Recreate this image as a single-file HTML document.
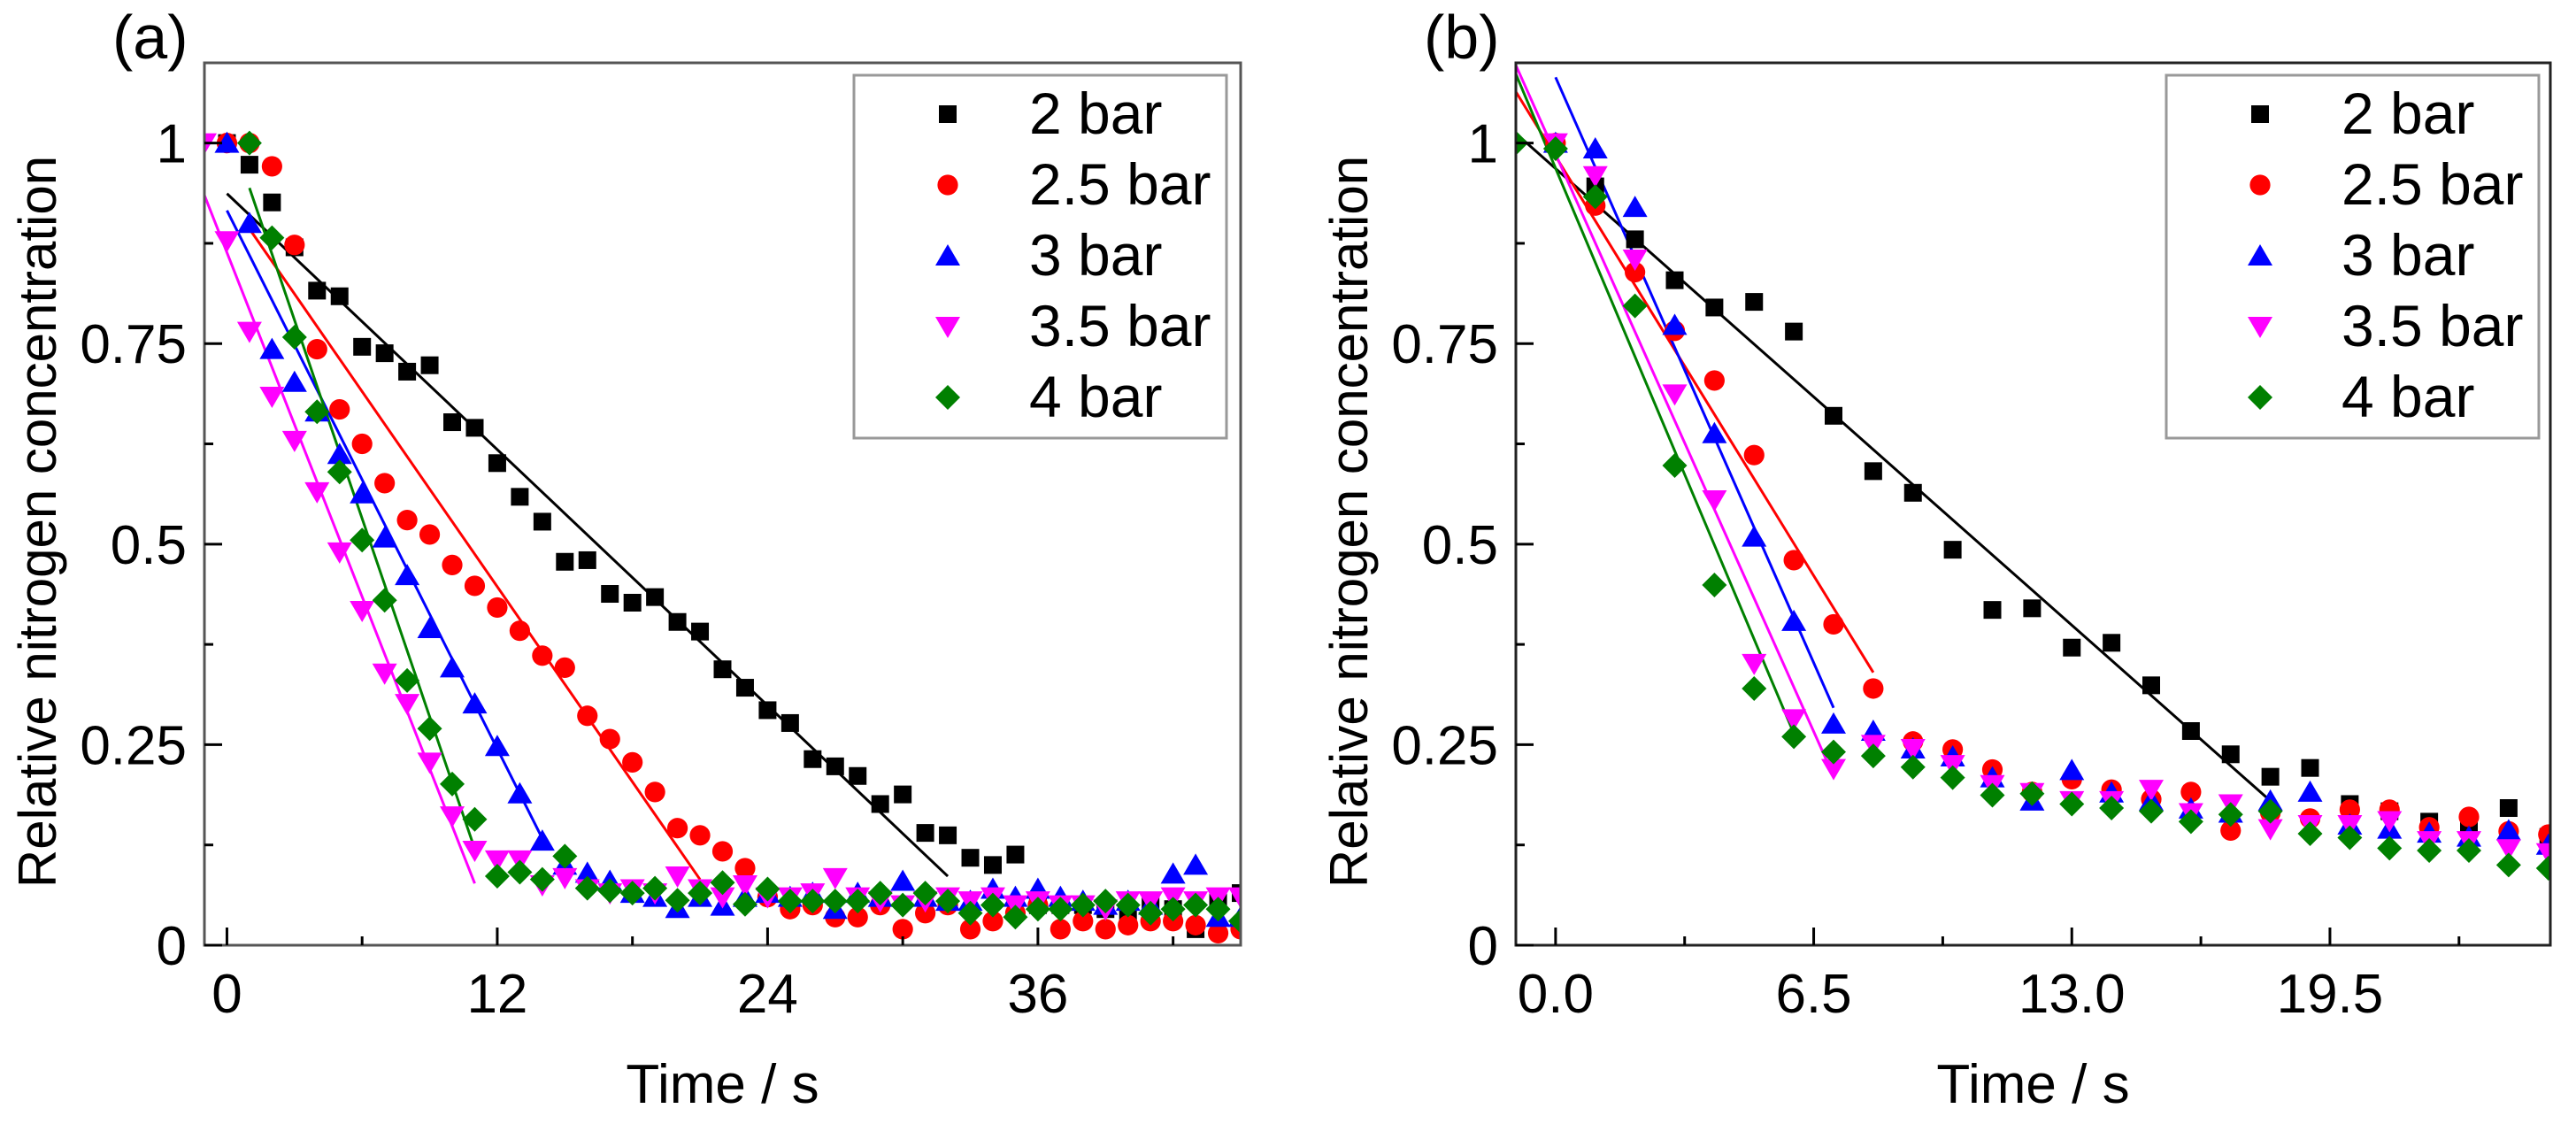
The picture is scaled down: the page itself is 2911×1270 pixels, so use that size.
<!DOCTYPE html>
<html><head><meta charset="utf-8"><style>
html,body{margin:0;padding:0;background:#fff;}
svg text{font-family:"Liberation Sans",Arial,sans-serif;fill:#000;}
</style></head><body>
<svg id="fig" width="2911" height="1265" viewBox="0 0 2911 1265" xmlns="http://www.w3.org/2000/svg"></svg>
<script>
const seriesNames = ["2 bar","2.5 bar","3 bar","3.5 bar","4 bar"];
const seriesColors = ["#000000","#ff0000","#0000ff","#ff00ff","#008000"];
const seriesShapes = ["square","circle","up","down","diamond"];

const aTickLabels = ["0","12","24","36"];
const aTickValues = [0,12,24,36];
const yTickLabels = ["0","0.25","0.5","0.75","1"];
const yTickValues = [0,0.25,0.5,0.75,1];

const aStart = [0,0,0,-1,1];
const a2 = [1.0,0.973,0.926,0.87,0.816,0.809,0.746,0.738,0.715,0.723,0.652,0.645,0.601,0.559,0.528,0.478,0.480,0.438,0.427,0.434,0.403,0.391,0.344,0.321,0.293,0.277,0.232,0.223,0.211,0.176,0.188,0.140,0.137,0.109,0.100,0.113,0.05,0.05,0.05,0.045,0.04,0.05,0.045,0.02,0.055,0.065];
const a25 = [1.0,1.0,0.971,0.873,0.743,0.668,0.625,0.576,0.530,0.512,0.474,0.448,0.421,0.392,0.361,0.346,0.286,0.257,0.228,0.191,0.146,0.137,0.117,0.096,0.06,0.045,0.05,0.035,0.035,0.05,0.02,0.04,0.05,0.02,0.03,0.04,0.05,0.02,0.03,0.02,0.025,0.03,0.03,0.025,0.015,0.02];
const a3 = [1.0,0.9,0.743,0.702,0.665,0.612,0.563,0.508,0.461,0.395,0.346,0.301,0.248,0.189,0.130,0.1,0.09,0.08,0.065,0.06,0.046,0.06,0.049,0.06,0.065,0.06,0.065,0.045,0.065,0.06,0.08,0.06,0.055,0.055,0.07,0.06,0.07,0.06,0.055,0.05,0.055,0.05,0.089,0.1,0.035,0.035];
const a35 = [1.0,0.878,0.765,0.684,0.629,0.565,0.490,0.417,0.339,0.301,0.228,0.161,0.118,0.106,0.106,0.075,0.084,0.07,0.065,0.07,0.065,0.086,0.07,0.06,0.075,0.06,0.06,0.065,0.084,0.06,0.055,0.05,0.055,0.06,0.055,0.06,0.05,0.055,0.05,0.05,0.045,0.055,0.055,0.06,0.055,0.06,0.06];
const a4 = [1.0,0.882,0.758,0.665,0.590,0.505,0.430,0.330,0.270,0.201,0.157,0.086,0.091,0.082,0.111,0.071,0.068,0.065,0.071,0.056,0.065,0.078,0.051,0.07,0.055,0.055,0.055,0.055,0.065,0.05,0.065,0.055,0.04,0.05,0.035,0.045,0.045,0.05,0.055,0.05,0.04,0.045,0.05,0.045,0.03];
const aFitStartT = [0,1,0,-1,1];
const aFitStartY = [0.937,0.893,0.916,0.935,0.944];
const aFitEndT = [32,21,14,11,11];
const aFitEndY = [0.086,0.082,0.133,0.077,0.12];

const bTickLabels = ["0.0","6.5","13.0","19.5"];
const bTickValues = [0,6.5,13,19.5];
const bStart = [0,0,0,0,-1];
const b2 = [1.0,0.946,0.88,0.829,0.795,0.802,0.765,0.660,0.591,0.564,0.493,0.418,0.420,0.371,0.377,0.324,0.267,0.238,0.210,0.221,0.176,0.167,0.154,0.15,0.171,0.135];
const b25 = [1.0,0.922,0.839,0.766,0.704,0.611,0.48,0.40,0.32,0.254,0.244,0.219,0.191,0.207,0.194,0.182,0.191,0.143,0.165,0.158,0.169,0.169,0.147,0.16,0.142,0.138];
const b3 = [1.0,0.993,0.92,0.773,0.638,0.509,0.404,0.276,0.267,0.245,0.235,0.209,0.18,0.218,0.19,0.18,0.17,0.165,0.18,0.191,0.15,0.145,0.14,0.135,0.143,0.125];
const b35 = [1.0,0.959,0.855,0.687,0.555,0.351,0.282,0.22,0.25,0.245,0.225,0.2,0.19,0.18,0.18,0.194,0.165,0.176,0.145,0.15,0.15,0.155,0.13,0.13,0.12,0.115];
const b4 = [1.0,0.993,0.933,0.797,0.598,0.449,0.32,0.26,0.241,0.236,0.222,0.209,0.187,0.189,0.176,0.171,0.167,0.154,0.163,0.167,0.139,0.134,0.121,0.118,0.118,0.1,0.096];
const bFitStartT = [-1,-1,0,-1,-1];
const bFitStartY = [1.012,1.064,1.082,1.097,1.086];
const bFitEndT = [18,8,7,7,6];
const bFitEndY = [0.18,0.34,0.296,0.211,0.264];

const NS = "http://www.w3.org/2000/svg";
const svg = document.getElementById('fig');
function mk(tag, attrs, parent){
  const e = document.createElementNS(NS, tag);
  for (const k in attrs) e.setAttribute(k, attrs[k]);
  (parent||svg).appendChild(e);
  return e;
}
function marker(g, shape, color, cx, cy, s){
  let e;
  if (shape==="square") e = mk('rect',{x:cx-s/2,y:cy-s/2,width:s,height:s,fill:color},g);
  else if (shape==="circle") e = mk('circle',{cx:cx,cy:cy,r:s*0.58,fill:color},g);
  else if (shape==="up") e = mk('polygon',{points:`${cx},${cy-s*0.65} ${cx+s*0.7},${cy+s*0.55} ${cx-s*0.7},${cy+s*0.55}`,fill:color},g);
  else if (shape==="down") e = mk('polygon',{points:`${cx},${cy+s*0.65} ${cx+s*0.7},${cy-s*0.55} ${cx-s*0.7},${cy-s*0.55}`,fill:color},g);
  else e = mk('polygon',{points:`${cx},${cy-s*0.7} ${cx+s*0.7},${cy} ${cx},${cy+s*0.7} ${cx-s*0.7},${cy}`,fill:color},g);
  return e;
}

function panel(cfg){
  const L=cfg.left,R=cfg.right,T=71,B=1068;
  const xs = t => L + (t - cfg.xmin)/(cfg.xmax-cfg.xmin)*(R-L);
  const ys = v => B - v/1.1*(B-T);
  const g = mk('g',{});
  
  
  const clipId = cfg.name+'-clip';
  const cp = mk('clipPath',{id:clipId},g);
  mk('rect',{x:L,y:T,width:R-L,height:B-T},cp);
  const lg = mk('g',{'clip-path':`url(#${clipId})`},g);
  for (let i=0;i<5;i++){
    const ln = mk('line',{x1:xs(cfg.fs[i]),y1:ys(cfg.fsy[i]),x2:xs(cfg.fe[i]),y2:ys(cfg.fey[i]),stroke:seriesColors[i],'stroke-width':3},lg);
    
    
  }
  for (let i=0;i<5;i++){
    const sg = mk('g',{'clip-path':`url(#${clipId})`},g);
    
    
    cfg.data[i].forEach((v,j)=>{
      const m = marker(sg, seriesShapes[i], seriesColors[i], xs(cfg.start[i]+j), ys(v), 20);
      
      
    });
  }
  const fr = mk('rect',{x:L,y:T,width:R-L,height:B-T,fill:'none',stroke:cfg.frame,'stroke-width':cfg.fw},g);
  
  
  cfg.xt.forEach((t,k)=>{
    mk('line',{x1:xs(t),y1:B,x2:xs(t),y2:B-20,stroke:'#000','stroke-width':3},g);
    const tx = mk('text',{x:xs(t),y:B+76,'font-size':62,'text-anchor':'middle'},g);
    tx.textContent = cfg.xl[k];
    
    
    const mt = t + cfg.minor;
    if (mt < cfg.xmax) mk('line',{x1:xs(mt),y1:B,x2:xs(mt),y2:B-10,stroke:'#000','stroke-width':3},g);
  });
  yTickValues.forEach((v,k)=>{
    mk('line',{x1:L,y1:ys(v),x2:L+20,y2:ys(v),stroke:'#000','stroke-width':3},g);
    const ty = mk('text',{x:L-20,y:ys(v)+22,'font-size':62,'text-anchor':'end'},g);
    ty.textContent = yTickLabels[k];
    
    
    if (k<4) mk('line',{x1:L,y1:ys(v+0.125),x2:L+10,y2:ys(v+0.125),stroke:'#000','stroke-width':3},g);
  });
  const xt = mk('text',{x:(L+R)/2,y:1246,'font-size':62,'text-anchor':'middle'},g);
  xt.textContent = 'Time / s';
  
  
  const yt = mk('text',{x:0,y:0,'font-size':60,'text-anchor':'middle',transform:`translate(${L-168},${(T+B)/2+20}) rotate(-90)`},g);
  yt.textContent = 'Relative nitrogen concentration';
  
  
  const pl = mk('text',{x:L-104,y:66,'font-size':70},g);
  pl.textContent = cfg.label;
  
  
  const lgd = mk('g',{},g);
  
  
  mk('rect',{x:cfg.lx,y:85,width:421,height:410,fill:'#fff',stroke:'#999','stroke-width':3},lgd);
  for (let i=0;i<5;i++){
    const cy = 127 + i*80;
    const eg = mk('g',{},lgd);
    
    
    marker(eg, seriesShapes[i], seriesColors[i], cfg.lx+106, cy+2, 20);
    const t = mk('text',{x:cfg.lx+198,y:cy+24,'font-size':66},eg);
    t.textContent = seriesNames[i];
  }
}

panel({name:'panel-a',label:'(a)',left:231,right:1402,xmin:-1,xmax:45,minor:6,
  xt:aTickValues,xl:aTickLabels,start:aStart,data:[a2,a25,a3,a35,a4],
  fs:aFitStartT,fsy:aFitStartY,fe:aFitEndT,fey:aFitEndY,frame:'#555',fw:3,lx:965});
panel({name:'panel-b',label:'(b)',left:1713,right:2882,xmin:-1,xmax:25.05,minor:3.25,
  xt:bTickValues,xl:bTickLabels,start:bStart,data:[b2,b25,b3,b35,b4],
  fs:bFitStartT,fsy:bFitStartY,fe:bFitEndT,fey:bFitEndY,frame:'#222',fw:3,lx:2448});
</script>
</body></html>
